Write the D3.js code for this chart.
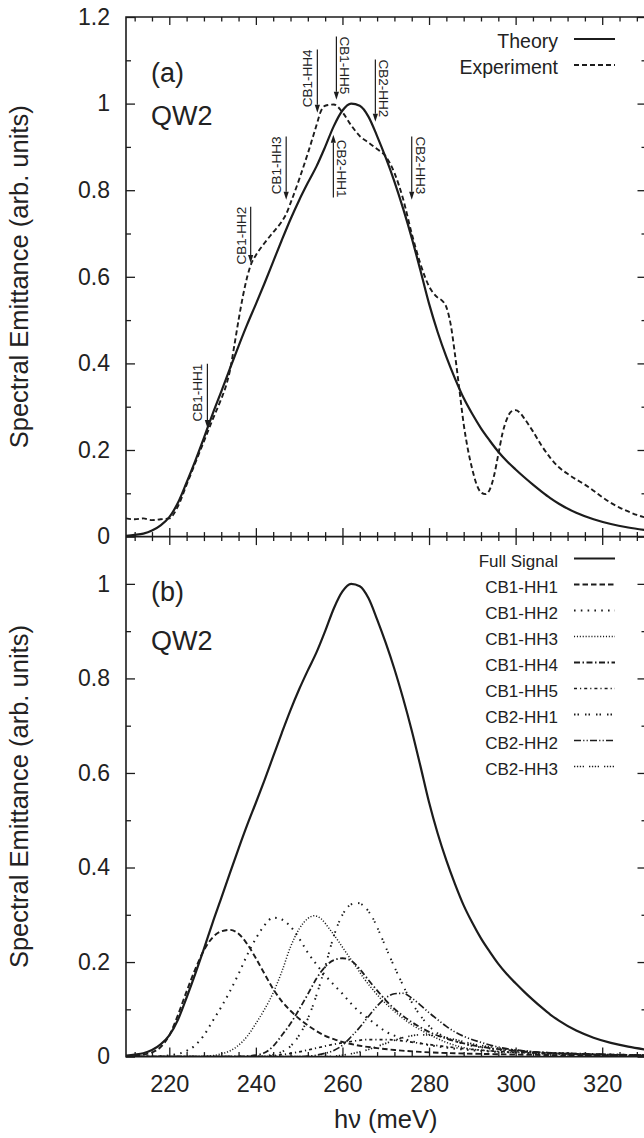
<!DOCTYPE html>
<html><head><meta charset="utf-8">
<script src="https://cdn.jsdelivr.net/npm/d3@7"></script>
<style>
body{margin:0;background:#fff}
svg{display:block}
text{font-family:"Liberation Sans", Arial, Helvetica, sans-serif; fill:#222}
</style>
</head><body><svg id="chart" width="644" height="1138"></svg>
<script>
// ---------------- data ----------------
const xTicks = [220, 240, 260, 280, 300, 320];
const yTicksA = [0, 0.2, 0.4, 0.6, 0.8, 1, 1.2];
const yTicksB = [0, 0.2, 0.4, 0.6, 0.8, 1];
const xTitle = "hν (meV)";
const yTitle = "Spectral Emittance (arb. units)";

const theory = [[210,0.002],[212,0.004],[214,0.007],[216,0.014],[218,0.026],[220,0.045],[222,0.078],[224,0.125],[226,0.175],[228,0.228],[230,0.283],[232,0.335],[234,0.388],[236,0.44],[238,0.49],[240,0.537],[242,0.585],[244,0.635],[246,0.685],[248,0.733],[250,0.777],[252,0.817],[254,0.855],[256,0.9],[258,0.948],[260,0.984],[262,1.0],[264,0.995],[266,0.97],[268,0.925],[270,0.875],[272,0.82],[274,0.758],[276,0.69],[278,0.615],[280,0.538],[282,0.472],[284,0.415],[286,0.365],[288,0.32],[290,0.283],[292,0.25],[294,0.222],[296,0.196],[298,0.174],[300,0.155],[302,0.137],[304,0.12],[306,0.104],[308,0.089],[310,0.076],[314,0.055],[318,0.04],[322,0.029],[326,0.021],[330,0.015]];

const experiment = [[210,0.042],[212,0.040],[214,0.042],[216,0.038],[218,0.040],[220,0.042],[222,0.07],[224,0.12],[226,0.17],[228,0.22],[230,0.27],[232,0.318],[233,0.345],[234,0.383],[235,0.44],[236,0.5],[237,0.555],[238,0.6],[239,0.632],[240,0.65],[242,0.678],[244,0.703],[246,0.728],[247,0.745],[248,0.77],[250,0.825],[252,0.885],[254,0.95],[255,0.982],[256,0.995],[258,0.998],[260,0.98],[262,0.95],[264,0.925],[266,0.91],[268,0.895],[270,0.878],[272,0.84],[274,0.78],[276,0.70],[278,0.63],[280,0.578],[282,0.552],[283,0.545],[284,0.53],[285,0.49],[286,0.42],[287,0.34],[288,0.26],[289,0.2],[290,0.155],[291,0.12],[292,0.102],[293,0.098],[294,0.108],[295,0.14],[296,0.19],[297,0.24],[298,0.272],[299,0.289],[300,0.292],[301,0.286],[302,0.273],[304,0.243],[306,0.21],[308,0.182],[310,0.16],[312,0.145],[314,0.132],[316,0.12],[318,0.106],[320,0.091],[322,0.078],[324,0.067],[326,0.058],[328,0.05],[330,0.044]];

const fullSignal = [[210,0.002],[212,0.004],[214,0.007],[216,0.014],[218,0.026],[220,0.045],[222,0.078],[224,0.125],[226,0.175],[228,0.228],[230,0.283],[232,0.335],[234,0.388],[236,0.44],[238,0.49],[240,0.537],[242,0.585],[244,0.635],[246,0.685],[248,0.733],[250,0.777],[252,0.817],[254,0.855],[256,0.9],[258,0.948],[260,0.984],[262,1.0],[264,0.995],[266,0.97],[268,0.925],[270,0.875],[272,0.82],[274,0.758],[276,0.69],[278,0.615],[280,0.538],[282,0.472],[284,0.415],[286,0.365],[288,0.32],[290,0.283],[292,0.25],[294,0.222],[296,0.196],[298,0.174],[300,0.155],[302,0.137],[304,0.12],[306,0.104],[308,0.089],[310,0.076],[314,0.055],[318,0.04],[322,0.029],[326,0.021],[330,0.015]];

const cb1hh1 = [[210,0.001],[213,0.003],[216,0.009],[218,0.02],[220,0.045],[222,0.088],[224,0.138],[226,0.185],[228,0.225],[230,0.252],[232,0.265],[234,0.268],[236,0.26],[238,0.238],[240,0.208],[242,0.175],[244,0.143],[246,0.117],[248,0.097],[250,0.08],[252,0.066],[254,0.054],[256,0.044],[258,0.037],[260,0.031],[264,0.023],[268,0.018],[272,0.014],[278,0.01],[286,0.007],[296,0.005],[310,0.003],[330,0.002]];
const cb1hh2 = [[210,0],[214,0],[218,0.001],[221,0.004],[224,0.012],[226,0.024],[228,0.045],[230,0.075],[232,0.105],[234,0.138],[236,0.175],[238,0.215],[240,0.25],[242,0.278],[244,0.294],[246,0.29],[248,0.275],[250,0.25],[252,0.22],[254,0.195],[256,0.172],[258,0.152],[260,0.133],[262,0.112],[264,0.094],[266,0.08],[268,0.066],[270,0.053],[274,0.038],[278,0.028],[284,0.019],[292,0.012],[302,0.008],[316,0.005],[330,0.003]];
const cb1hh3 = [[210,0],[226,0],[230,0.002],[232,0.006],[234,0.012],[236,0.024],[238,0.043],[240,0.07],[242,0.1],[244,0.135],[246,0.18],[248,0.232],[250,0.27],[252,0.292],[253.5,0.298],[255,0.292],[257,0.27],[259,0.245],[261,0.218],[263,0.192],[265,0.165],[267,0.142],[269,0.121],[271,0.104],[273,0.088],[275,0.074],[277,0.062],[280,0.047],[284,0.03],[288,0.019],[294,0.012],[302,0.008],[316,0.004],[330,0.002]];
const cb1hh4 = [[210,0],[236,0],[240,0.003],[242,0.008],[244,0.022],[246,0.045],[248,0.07],[250,0.1],[252,0.132],[254,0.165],[256,0.19],[258,0.204],[260,0.208],[262,0.203],[264,0.185],[266,0.162],[268,0.14],[270,0.119],[272,0.101],[274,0.086],[276,0.073],[278,0.062],[281,0.048],[284,0.038],[288,0.028],[294,0.018],[302,0.011],[316,0.006],[330,0.003]];
const cb1hh5 = [[210,0],[240,0],[246,0.004],[250,0.01],[254,0.018],[258,0.026],[262,0.032],[266,0.036],[270,0.036],[274,0.033],[278,0.028],[284,0.021],[290,0.015],[298,0.01],[310,0.006],[330,0.003]];
const cb2hh1 = [[210,0],[240,0],[244,0.004],[246,0.01],[248,0.022],[250,0.045],[252,0.08],[254,0.13],[256,0.19],[258,0.255],[260,0.3],[262,0.322],[263.5,0.325],[265,0.318],[267,0.293],[269,0.253],[271,0.21],[273,0.17],[275,0.132],[277,0.1],[279,0.075],[281,0.056],[284,0.04],[288,0.027],[294,0.017],[302,0.01],[316,0.005],[330,0.003]];
const cb2hh2 = [[210,0],[250,0],[254,0.003],[256,0.007],[258,0.013],[260,0.024],[262,0.042],[264,0.062],[266,0.085],[268,0.107],[270,0.124],[272,0.133],[274,0.134],[276,0.124],[278,0.109],[280,0.093],[282,0.078],[284,0.064],[286,0.052],[288,0.043],[292,0.03],[296,0.02],[302,0.012],[314,0.006],[330,0.003]];
const cb2hh3 = [[210,0],[256,0],[262,0.006],[266,0.015],[270,0.028],[274,0.04],[278,0.046],[282,0.044],[286,0.036],[290,0.027],[296,0.018],[304,0.01],[316,0.005],[330,0.003]];

const seriesB = [
  {name:"Full Signal", data: fullSignal, dash:null, w:2.2},
  {name:"CB1-HH1", data: cb1hh1, dash:"5.5,3", w:1.9},
  {name:"CB1-HH2", data: cb1hh2, dash:"1.6,5.2", w:2},
  {name:"CB1-HH3", data: cb1hh3, dash:"1.1,1.8", w:1.5},
  {name:"CB1-HH4", data: cb1hh4, dash:"6,2.5,1.5,2.5", w:1.8},
  {name:"CB1-HH5", data: cb1hh5, dash:"3,3,1.2,3", w:1.7},
  {name:"CB2-HH1", data: cb2hh1, dash:"1.5,2,1.5,6", w:1.9},
  {name:"CB2-HH2", data: cb2hh2, dash:"7,2.2,1.2,2.2,1.2,2.2", w:1.7},
  {name:"CB2-HH3", data: cb2hh3, dash:"1.3,1.6,1.3,1.6,1.3,1.6,1.3,5", w:1.7}
];

// arrows in panel (a): energy, tail value, tip value, label side
const arrows = [
  {label:"CB1-HH1", e:228.8, tail:0.399, tip:0.251, side:"left"},
  {label:"CB1-HH2", e:238.8, tail:0.762, tip:0.632, side:"left"},
  {label:"CB1-HH3", e:247.0, tail:0.924, tip:0.778, side:"left"},
  {label:"CB1-HH4", e:254.2, tail:1.125, tip:0.979, side:"left"},
  {label:"CB1-HH5", e:258.6, tail:1.155, tip:1.009, side:"right"},
  {label:"CB2-HH1", e:257.9, tail:0.783, tip:0.928, side:"right"},
  {label:"CB2-HH2", e:267.6, tail:1.102, tip:0.958, side:"right"},
  {label:"CB2-HH3", e:276.0, tail:0.924, tip:0.778, side:"right"}
];

// ---------------- layout ----------------
const L = 126, R = 645.5;
const topA = 17, botA = 536.6, botB = 1056.6;
const ink = "#1c1c1c";

const svg = d3.select("#chart");
const x = d3.scaleLinear().domain([210, 330]).range([L, R]);
const yA = d3.scaleLinear().domain([0, 1.2]).range([botA, topA]);
const yB = d3.scaleLinear().domain([0, 1.1]).range([botB, botA]);

const xMinor = d3.range(212, 330, 4).filter(v => (v - 220) % 20 !== 0);
const yMinorA = [0.1,0.3,0.5,0.7,0.9,1.1];
const yMinorB = [0.1,0.3,0.5,0.7,0.9];
const fmt = d => String(d);

function clean(g){ g.select(".domain").remove(); g.selectAll("line").attr("stroke", ink).attr("stroke-width", 1.3); }

function xTickAxis(axisFn, y, vals, size){
  svg.append("g").attr("transform", `translate(0,${y})`)
    .call(axisFn(x).tickValues(vals).tickSize(size).tickFormat(""))
    .call(clean);
}
xTickAxis(d3.axisBottom, topA, xTicks, 8);
xTickAxis(d3.axisBottom, topA, xMinor, 4.5);
xTickAxis(d3.axisBottom, botA, xTicks, 8.5);
xTickAxis(d3.axisTop, botA, xTicks, 8.5);
xTickAxis(d3.axisBottom, botA, xMinor, 4.5);
xTickAxis(d3.axisTop, botA, xMinor, 4.5);
const gxb = svg.append("g").attr("transform", `translate(0,${botB})`)
  .call(d3.axisBottom(x).tickValues(xTicks).tickSize(-9).tickPadding(19).tickFormat(fmt))
  .call(clean);
gxb.selectAll("text").attr("font-size", 23.5).attr("fill", "#222").attr("font-family", "Liberation Sans, Arial, sans-serif");
xTickAxis(d3.axisBottom, botB, xMinor, -4.5);

function yAxes(y, major, minor){
  const gl = svg.append("g").attr("transform", `translate(${L},0)`)
    .call(d3.axisLeft(y).tickValues(major).tickSize(-9).tickPadding(16).tickFormat(fmt))
    .call(clean);
  gl.selectAll("text").attr("font-size", 23).attr("fill", "#222").attr("font-family", "Liberation Sans, Arial, sans-serif");
  svg.append("g").attr("transform", `translate(${L},0)`)
    .call(d3.axisLeft(y).tickValues(minor).tickSize(-5).tickFormat("")).call(clean);
  svg.append("g").attr("transform", `translate(${R},0)`)
    .call(d3.axisRight(y).tickValues(major).tickSize(-8).tickFormat("")).call(clean);
  svg.append("g").attr("transform", `translate(${R},0)`)
    .call(d3.axisRight(y).tickValues(minor).tickSize(-4).tickFormat("")).call(clean);
}
yAxes(yA, yTicksA, yMinorA);
yAxes(yB, yTicksB, yMinorB);

svg.append("path")
  .attr("d", `M${L},${topA}H${R}V${botB}H${L}Z M${L},${botA}H${R}`)
  .attr("fill", "none").attr("stroke", ink).attr("stroke-width", 1.6);

svg.append("text").attr("x", (L + R) / 2).attr("y", 1128).attr("text-anchor", "middle")
  .attr("font-size", 25.5).text(xTitle);
[(topA + botA) / 2, (botA + botB) / 2].forEach(cy => {
  svg.append("text").attr("transform", `translate(28,${cy}) rotate(-90)`)
    .attr("text-anchor", "middle").attr("font-size", 25.5).text(yTitle);
});

svg.append("text").attr("x", 151).attr("y", 82).attr("font-size", 27).text("(a)");
svg.append("text").attr("x", 151).attr("y", 125).attr("font-size", 27).text("QW2");
svg.append("text").attr("x", 151).attr("y", 601).attr("font-size", 27).text("(b)");
svg.append("text").attr("x", 151).attr("y", 650).attr("font-size", 27).text("QW2");

svg.append("clipPath").attr("id", "clipA").append("rect").attr("x", L).attr("y", topA).attr("width", R - L).attr("height", botA - topA);
svg.append("clipPath").attr("id", "clipB").append("rect").attr("x", L).attr("y", botA).attr("width", R - L).attr("height", botB - botA);

const lineA = d3.line().x(d => x(d[0])).y(d => yA(d[1])).curve(d3.curveMonotoneX);
const lineB = d3.line().x(d => x(d[0])).y(d => yB(d[1])).curve(d3.curveMonotoneX);
const gA = svg.append("g").attr("clip-path", "url(#clipA)");
gA.append("path").attr("d", lineA(experiment)).attr("fill", "none").attr("stroke", ink)
  .attr("stroke-width", 1.9).attr("stroke-dasharray", "5,3");
gA.append("path").attr("d", lineA(theory)).attr("fill", "none").attr("stroke", ink)
  .attr("stroke-width", 2.2);

arrows.forEach(a => {
  const ax = x(a.e), yt = yA(a.tail), yp = yA(a.tip);
  const dir = yp > yt ? 1 : -1;
  const head = 8, hw = 2.6;
  svg.append("line").attr("x1", ax).attr("x2", ax).attr("y1", yt).attr("y2", yp - dir * head)
    .attr("stroke", ink).attr("stroke-width", 1.2);
  svg.append("path").attr("d", `M${ax},${yp}L${ax - hw},${yp - dir * head}L${ax + hw},${yp - dir * head}Z`)
    .attr("fill", ink);
  let tx, rot, anchor;
  if (a.side === "left") { tx = ax - 5; rot = -90; anchor = dir === 1 ? "end" : "start"; }
  else { tx = ax + 4; rot = 90; anchor = dir === 1 ? "start" : "end"; }
  svg.append("text").attr("transform", `translate(${tx},${yt}) rotate(${rot})`)
    .attr("text-anchor", anchor).attr("font-size", 13.5).text(a.label);
});

const legA = [{name:"Theory", dash:null, w:2.2}, {name:"Experiment", dash:"5,3", w:1.9}];
legA.forEach((s, i) => {
  const by = 48 + i * 26;
  svg.append("text").attr("x", 558).attr("y", by).attr("text-anchor", "end").attr("font-size", 19.5).text(s.name);
  svg.append("line").attr("x1", 574).attr("x2", 615).attr("y1", by - 9).attr("y2", by - 9)
    .attr("stroke", ink).attr("stroke-width", s.w).attr("stroke-dasharray", s.dash);
});

const gB = svg.append("g").attr("clip-path", "url(#clipB)");
seriesB.slice().reverse().forEach(s => {
  gB.append("path").attr("d", lineB(s.data)).attr("fill", "none").attr("stroke", ink)
    .attr("stroke-width", s.w).attr("stroke-dasharray", s.dash);
});
seriesB.forEach((s, i) => {
  const by = 567 + i * 26;
  svg.append("text").attr("x", 558).attr("y", by).attr("text-anchor", "end").attr("font-size", 17).text(s.name);
  svg.append("line").attr("x1", 574).attr("x2", 615).attr("y1", by - 8.5).attr("y2", by - 8.5)
    .attr("stroke", ink).attr("stroke-width", s.w).attr("stroke-dasharray", s.dash);
});
</script>
</body></html>
